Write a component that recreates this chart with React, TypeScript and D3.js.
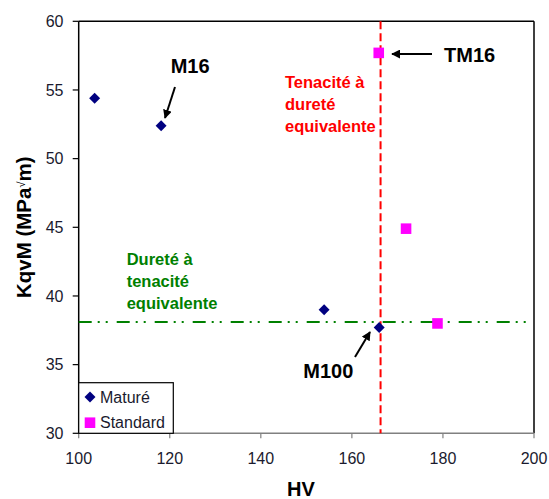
import React from "react";
import * as d3 from "d3";

const xTicks = [100, 120, 140, 160, 180, 200];
const yTicks = [30, 35, 40, 45, 50, 55, 60];

const matureHV = [103.5, 118.1, 153.9, 166.0];
const matureK = [54.4, 52.4, 39.0, 37.7];

const standardHV = [165.9, 171.9, 178.8];
const standardK = [57.7, 44.9, 38.0];

const refHV = 166.3;
const refK = 38.1;

const W = 549;
const H = 499;
const FONT = "Arial, 'Liberation Sans', sans-serif";

export default function App() {
  const x = d3.scaleLinear().domain([100, 200]).range([78.7, 534]);
  const y = d3.scaleLinear().domain([30, 60]).range([433.3, 21.3]);
  const diamond = d3.symbol(d3.symbolSquare, 60)()!;
  const square = d3.symbol(d3.symbolSquare, 112)()!;

  const x0 = x(100), x1 = x(200), y0 = y(30), y1 = y(60);

  return (
    <svg width={W} height={H} style={{ position: "absolute", left: 0, top: 0, background: "#fff" }} fontFamily={FONT}>
      <defs>
        <marker id="ah" viewBox="0 0 10 10" refX="9" refY="5" markerWidth="4.5" markerHeight="4.5" orient="auto">
          <path d="M0,0 L10,5 L0,10 z" fill="#000" />
        </marker>
      </defs>
      <rect x={0} y={0} width={W} height={H} fill="#fff" />
      {/* frame */}
      <line x1={x0} x2={x1} y1={y1} y2={y1} stroke="#000" strokeWidth={1.5} />
      <line x1={x1} x2={x1} y1={y1} y2={y0} stroke="#000" strokeWidth={1.5} />
      <line x1={x0} x2={x1} y1={y0} y2={y0} stroke="#808080" strokeWidth={1.5} />
      <line x1={x0} x2={x0} y1={y1} y2={y0} stroke="#000" strokeWidth={1.5} />

      {/* x ticks */}
      {xTicks.map((t) => (
        <g key={"x" + t}>
          <line x1={x(t)} x2={x(t)} y1={y0} y2={y0 + 5} stroke="#808080" strokeWidth={1.2} />
          <text x={x(t)} y={464} textAnchor="middle" fontSize={16} fill="#1a1a2e">{t}</text>
        </g>
      ))}
      {/* y ticks */}
      {yTicks.map((t) => (
        <g key={"y" + t}>
          <line x1={x0 - 6} x2={x0} y1={y(t)} y2={y(t)} stroke="#000" strokeWidth={1.2} />
          <text x={63.5} y={y(t)} dy="0.36em" textAnchor="end" fontSize={16} fill="#1a1a2e">{t}</text>
        </g>
      ))}

      {/* axis titles */}
      <text x={301} y={496} textAnchor="middle" fontSize={20} fontWeight="bold" fill="#000">HV</text>
      <text transform={`translate(30.5, ${(y0 + y1) / 2}) rotate(-90)`} textAnchor="middle" fontSize={20.5} fontWeight="bold" fill="#000">
        KqvM (MPa<tspan fontSize={11} fontWeight="normal" dy={-6}>√</tspan><tspan dy={6}>m)</tspan>
      </text>

      {/* reference lines */}
      <line x1={x(refHV)} x2={x(refHV)} y1={y1} y2={y0} stroke="#ff0000" strokeWidth={2} strokeDasharray="8 4" />
      <line x1={x0} x2={x1} y1={y(refK)} y2={y(refK)} stroke="#008000" strokeWidth={2} strokeDasharray="13 6 2 6 2 9" />

      {/* data */}
      {matureHV.map((v, i) => (
        <path key={"m" + i} d={diamond} transform={`translate(${x(v)},${y(matureK[i])}) rotate(45)`} fill="#000080" />
      ))}
      {standardHV.map((v, i) => (
        <path key={"s" + i} d={square} transform={`translate(${x(v)},${y(standardK[i])})`} fill="#ff00ff" />
      ))}

      {/* annotations */}
      <text x={170.7} y={72.5} fontSize={20} fontWeight="bold" fill="#000">M16</text>
      <line x1={175} y1={87} x2={165} y2={118} stroke="#000" strokeWidth={2} markerEnd="url(#ah)" />
      <text x={444} y={61.7} fontSize={20} fontWeight="bold" fill="#000">TM16</text>
      <line x1={432} y1={54} x2={392} y2={54} stroke="#000" strokeWidth={2} markerEnd="url(#ah)" />
      <text x={303.3} y={378.3} fontSize={20} fontWeight="bold" fill="#000">M100</text>
      <line x1={355} y1={357} x2={370} y2={332} stroke="#000" strokeWidth={2} markerEnd="url(#ah)" />

      <g fontSize={16.5} fontWeight="bold" fill="#ff0000">
        <text x={285} y={88}>Tenacité à</text>
        <text x={285} y={110}>dureté</text>
        <text x={285} y={132}>equivalente</text>
      </g>
      <g fontSize={16.5} fontWeight="bold" fill="#008000">
        <text x={126.7} y={265.3}>Dureté à</text>
        <text x={126.7} y={287}>tenacité</text>
        <text x={126.7} y={309}>equivalente</text>
      </g>

      {/* legend */}
      <rect x={x0} y={382.7} width={173.3 - x0} height={y0 - 382.7} fill="#fff" stroke="#000" strokeWidth={1.2} />
      <path d={diamond} transform={`translate(90,397) rotate(45)`} fill="#000080" />
      <text x={100} y={403} fontSize={16} fill="#1a1a2e">Maturé</text>
      <path d={square} transform={`translate(90,422.7)`} fill="#ff00ff" />
      <text x={100} y={428} fontSize={16} fill="#1a1a2e">Standard</text>
    </svg>
  );
}
